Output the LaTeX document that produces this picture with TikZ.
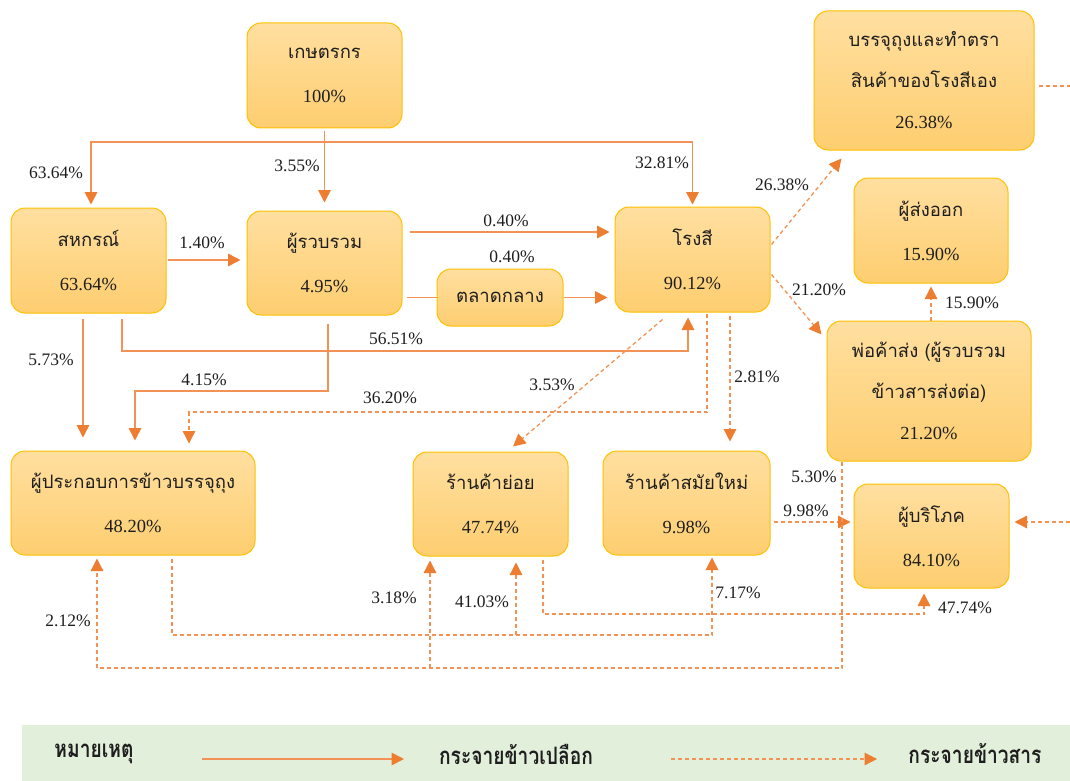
\documentclass[tikz,border=0pt]{standalone}
\usepackage{fontspec}
\setmainfont{Liberation Serif}
\newfontfamily\thai[Script=Thai]{Loma}
\newfontfamily\thaikey[Script=Thai, FakeStretch=0.8]{Loma}
\usetikzlibrary{arrows.meta}

\definecolor{boxline}{RGB}{255,192,0}
\definecolor{boxtop}{RGB}{255,223,160}
\definecolor{boxbot}{RGB}{254,206,112}
\definecolor{flowcol}{RGB}{242,146,86}
\definecolor{tipcol}{RGB}{237,125,49}
\definecolor{legendbg}{RGB}{226,239,218}
\definecolor{ink}{RGB}{30,30,30}

\tikzset{
  stagebox/.style={rectangle, rounded corners=14pt, draw=boxline, line width=1pt,
    top color=boxtop, bottom color=boxbot, text=ink, align=center, inner sep=0pt,
    font=\fontsize{18.5}{44}\selectfont},
  stagebox3/.style={stagebox, font=\fontsize{18.5}{41}\selectfont},
  paddyline/.style={draw=flowcol, line width=1.6pt},
  milledline/.style={draw=flowcol, line width=1.3pt, dash pattern=on 4pt off 3pt},
  ricepaddy/.style={paddyline, -{Triangle[width=12.5pt,length=12.5pt,color=tipcol]}},
  ricemilled/.style={milledline, -{Triangle[width=12.5pt,length=12.5pt,color=tipcol]}},
  pct/.style={font=\fontsize{17.5}{20}\selectfont, text=ink, inner sep=0pt},
  legendtext/.style={font=\thaikey\bfseries\fontsize{24}{28}\selectfont, text=ink, inner sep=0pt},
}

\begin{document}
\begin{tikzpicture}[x=1pt, y=-1pt]
\useasboundingbox (0,0) rectangle (1070,781);

% ---------- stages of the rice chain ----------
\node[stagebox, minimum width=155pt, minimum height=105pt] (farmer) at (324.5,75.5) {{\thai เกษตรกร}\\100\%};
\node[stagebox, minimum width=155pt, minimum height=105pt] (coop) at (88.5,260.5) {{\thai สหกรณ์}\\63.64\%};
\node[stagebox, minimum width=155pt, minimum height=104pt] (collector) at (324.5,263) {{\thai ผู้รวบรวม}\\4.95\%};
\node[stagebox, minimum width=126pt, minimum height=57pt] (market) at (500,297.5) {\thai ตลาดกลาง};
\node[stagebox, minimum width=155pt, minimum height=105pt] (mill) at (692.5,259.5) {{\thai โรงสี}\\90.12\%};
\node[stagebox3, minimum width=220pt, minimum height=139pt] (brand) at (924,80.5) {{\thai บรรจุถุงและทำตรา}\\{\thai สินค้าของโรงสีเอง}\\26.38\%};
\node[stagebox, minimum width=154pt, minimum height=105pt] (exporter) at (931,230.5) {{\thai ผู้ส่งออก}\\15.90\%};
\node[stagebox3, minimum width=204pt, minimum height=140pt] (wholesale) at (929,391) {{\thai พ่อค้าส่ง (ผู้รวบรวม}\\{\thai ข้าวสารส่งต่อ)}\\21.20\%};
\node[stagebox, minimum width=244pt, minimum height=104pt] (oper) at (133,503) {{\thai ผู้ประกอบการข้าวบรรจุถุง}\\48.20\%};
\node[stagebox, minimum width=155pt, minimum height=104pt] (retail) at (490.5,504) {{\thai ร้านค้าย่อย}\\47.74\%};
\node[stagebox, minimum width=167pt, minimum height=104pt] (modern) at (686.5,503) {{\thai ร้านค้าสมัยใหม่}\\9.98\%};
\node[stagebox, minimum width=155pt, minimum height=104pt] (consumer) at (931.5,536) {{\thai ผู้บริโภค}\\84.10\%};

% ---------- paddy flows (solid) ----------
\coordinate (split) at (farmer.south |- 0,142);
\draw[ricepaddy, shorten <=3pt, shorten >=8pt] (farmer.south) -- (collector.north);
\draw[ricepaddy, shorten >=3pt] (split) -| ([xshift=2.5pt]coop.north);
\draw[ricepaddy, shorten >=2pt] (split) -| (mill.north);
\draw[ricepaddy, shorten <=1pt, shorten >=6pt] (coop.east |- 0,260) -- (collector.west |- 0,260);
\draw[ricepaddy, shorten <=7pt, shorten >=5pt] (collector.east |- 0,232) -- (mill.west |- 0,232);
\draw[paddyline, shorten <=4pt] (collector.east |- market.west) -- (market.west);
\draw[ricepaddy, shorten >=7pt] (market.east) -- (market.east -| mill.west);
\draw[ricepaddy, shorten <=5pt, shorten >=5pt] (coop.south -| 122,0) |- (688,351) -- (mill.south -| 688,0);
\draw[ricepaddy, shorten <=5pt, shorten >=13pt] (coop.south -| 83,0) -- (oper.north -| 83,0);
\draw[ricepaddy, shorten <=8pt, shorten >=10pt] (collector.south -| 328,0) |- (135,391) -- (oper.north -| 135,0);

% ---------- milled rice flows (dashed) ----------
\draw[ricemilled, shorten <=1pt, shorten >=7pt] (mill.south -| 707,0) |- (189,412) -- (oper.north -| 189,0);
\draw[ricemilled] ([shift={(-30,7)}]mill.south) -- ([shift={(22.5,-5)}]retail.north);
\draw[ricemilled, shorten <=3pt, shorten >=9pt] (mill.south -| 730,0) -- (modern.north -| 730,0);
\draw[ricemilled] ([shift={(1,-15)}]mill.east) -- ([shift={(28,8)}]brand.south west);
\draw[ricemilled] ([shift={(1,15)}]mill.east) -- ([shift={(-5,14)}]wholesale.north west);
\draw[ricemilled, shorten >=3pt] (wholesale.north -| 931,0) -- (exporter.south -| 931,0);
\draw[ricemilled, shorten <=3pt, shorten >=3pt] (modern.east |- 0,522) -- (consumer.west |- 0,522);
\draw[ricemilled, shorten >=3pt] (wholesale.south -| 842,0) |- (97,668) -- (oper.south -| 97,0);
\draw[ricemilled, shorten >=4pt] (430,668) -- (retail.south -| 430,0);
\draw[ricemilled, shorten <=3pt, shorten >=2pt] (oper.south -| 172,0) |- (712,635) -- (modern.south -| 712,0);
\draw[ricemilled, shorten >=6pt] (516,635) -- (retail.south -| 516,0);
\draw[ricemilled, shorten <=3pt, shorten >=5pt] (retail.south -| 543,0) |- (924,614) -- (consumer.south -| 924,0);
\coordinate (brandout) at (1070,86);
\coordinate (consumerin) at (1070,522);
\draw[milledline, shorten <=4pt] (brand.east |- brandout) -- (brandout);
\draw[ricemilled, shorten >=5pt] (consumerin) -- (consumer.east |- consumerin);

% ---------- shares along the flows ----------
\node[pct] (p1) at (56,173) {63.64\%};
\node[pct] (p2) at (297,166) {3.55\%};
\node[pct] (p3) at (662,163) {32.81\%};
\node[pct] (p4) at (202,243) {1.40\%};
\node[pct] (p5) at (506,221) {0.40\%};
\node[pct] (p6) at (512,257) {0.40\%};
\node[pct] (p7) at (396,339) {56.51\%};
\node[pct] (p8) at (51,360) {5.73\%};
\node[pct] (p9) at (204,380) {4.15\%};
\node[pct] (p10) at (390,398) {36.20\%};
\node[pct] (p11) at (552,385) {3.53\%};
\node[pct] (p12) at (757,377) {2.81\%};
\node[pct] (p13) at (782,185) {26.38\%};
\node[pct] (p14) at (819,290) {21.20\%};
\node[pct] (p15) at (972,303) {15.90\%};
\node[pct] (p16) at (806,511) {9.98\%};
\node[pct] (p17) at (814,477) {5.30\%};
\node[pct] (p18) at (68,621) {2.12\%};
\node[pct] (p19) at (394,598) {3.18\%};
\node[pct] (p20) at (482,602) {41.03\%};
\node[pct] (p21) at (738,593) {7.17\%};
\node[pct] (p22) at (965,608) {47.74\%};

% ---------- key ----------
\node[fill=legendbg, minimum width=1048pt, minimum height=56pt, inner sep=0pt, anchor=north west] (keyband) at (22,725) {};
\node[legendtext] (keytitle) at (94,754) {หมายเหตุ};
\coordinate (ks1) at (202,759);
\coordinate (ke1) at (404,759);
\draw[ricepaddy] (ks1) -- (ke1);
\node[legendtext] (keypaddy) at (516,754) {กระจายข้าวเปลือก};
\coordinate (ks2) at (671,759);
\coordinate (ke2) at (877,759);
\draw[ricemilled] (ks2) -- (ke2);
\node[legendtext] (keymilled) at (975,754) {กระจายข้าวสาร};
\end{tikzpicture}
\end{document}
